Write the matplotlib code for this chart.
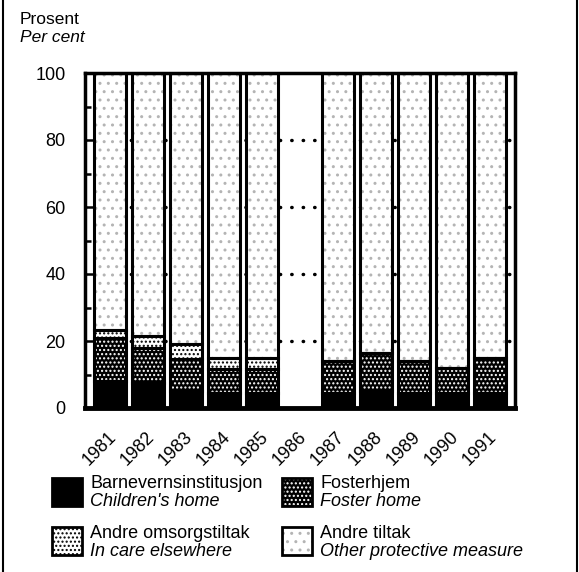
import matplotlib
matplotlib.use("Agg")
import matplotlib.pyplot as plt
import numpy as np
from matplotlib.patches import Rectangle
from matplotlib.lines import Line2D
from matplotlib.transforms import ScaledTranslation

plt.rcParams['font.family'] = ['Liberation Sans', 'DejaVu Sans']
plt.rcParams['hatch.linewidth'] = 1.0

# Data (percent of children with protective measures), 1986 missing
years = ['1981', '1982', '1983', '1984', '1985', '1986',
         '1987', '1988', '1989', '1990', '1991']
childrens_home = [8.0, 7.5, 5.0, 4.5, 4.5, np.nan, 4.5, 5.0, 4.5, 4.5, 4.5]
foster_home = [12.8, 10.5, 9.5, 7.0, 7.0, np.nan, 9.5, 11.5, 9.5, 7.5, 10.5]
in_care = [2.5, 3.5, 4.5, 3.5, 3.5, np.nan, 0.0, 0.0, 0.0, 0.0, 0.0]
grid_levels = [20, 40, 60, 80]

labels_no = ['Barnevernsinstitusjon', 'Fosterhjem',
             'Andre omsorgstiltak', 'Andre tiltak']
labels_en = ["Children's home", 'Foster home',
             'In care elsewhere', 'Other protective measure']

W, H = 579, 572


def fx(px):
    return px / W


def fy(py):
    return 1 - py / H


def main():
    fig = plt.figure(figsize=(W / 100, H / 100), dpi=100)
    ax = fig.add_axes([fx(85), fy(408), fx(515) - fx(85), fy(73) - fy(408)])

    ch = np.array(childrens_home)
    fo = np.array(foster_home)
    ca = np.array(in_care)
    other = 100 - ch - fo - ca
    x = np.arange(len(years))
    ok = ~np.isnan(ch)

    # segment styles: facecolor, hatch colour, hatch
    styles = [('black', 'black', None),
              ('black', 'white', '....'),
              ('white', 'black', '....'),
              ('white', '#b4b4b4', '..')]

    bottom = np.zeros(ok.sum())
    for vals, (fc, hc, hatch) in zip([ch, fo, ca, other], styles):
        v = vals[ok]
        ax.bar(x[ok], v, bottom=bottom, width=0.84, color=fc,
               edgecolor=hc, hatch=hatch, linewidth=0, zorder=2)
        ax.bar(x[ok], v, bottom=bottom, width=0.84, fill=False,
               edgecolor='black', linewidth=2.2, zorder=3)
        bottom = bottom + v

    # dotted grid behind the bars
    for lv in grid_levels:
        ax.axhline(lv, color='black', linewidth=2.5, linestyle=(0, (0.1, 3.2)),
                   dash_capstyle='round', zorder=1)

    ax.set_xlim(-0.66, 10.66)
    ax.set_ylim(0, 100)

    for s in ax.spines.values():
        s.set_linewidth(2.5)
    ax.spines['bottom'].set_linewidth(3.5)

    ax.set_yticks([0, 20, 40, 60, 80, 100])
    ax.set_yticks([10, 30, 50, 70, 90], minor=True)
    ax.tick_params(axis='y', which='major', direction='in', length=9,
                   width=1.8, pad=14, labelsize=13)
    ax.tick_params(axis='y', which='minor', direction='in', length=4,
                   width=1.8)

    ax.set_xticks(x)
    ax.set_xticklabels(years, rotation=45, ha='right', va='center',
                       rotation_mode='anchor', fontsize=13)
    ax.tick_params(axis='x', length=0, pad=19)
    off = ScaledTranslation(4 / 100, 0, fig.dpi_scale_trans)
    for lab in ax.get_xticklabels():
        lab.set_transform(lab.get_transform() + off)

    # unit label
    fig.text(fx(20), fy(20), 'Prosent', fontsize=12.5, va='center')
    fig.text(fx(20), fy(38), 'Per cent', fontsize=12.5, style='italic',
             va='center')

    # legend
    boxes = [(52, 478), (282, 478), (52, 527), (282, 527)]
    for (bx, by), (fc, hc, hatch), no, en in zip(boxes, styles,
                                                  labels_no, labels_en):
        fig.add_artist(Rectangle((fx(bx), fy(by + 28)), fx(30), 28 / H,
                                 transform=fig.transFigure, facecolor=fc,
                                 edgecolor=hc, hatch=hatch, linewidth=0))
        fig.add_artist(Rectangle((fx(bx), fy(by + 28)), fx(30), 28 / H,
                                 transform=fig.transFigure, fill=False,
                                 edgecolor='black', linewidth=2))
        fig.text(fx(bx + 38), fy(by + 6), no, fontsize=13, va='center')
        fig.text(fx(bx + 38), fy(by + 24), en, fontsize=13, style='italic',
                 va='center')

    # page border lines
    fig.add_artist(Line2D([fx(3), fx(3)], [0, 1], color='black',
                          linewidth=1.5, transform=fig.transFigure))
    fig.add_artist(Line2D([fx(577), fx(577)], [0, 1], color='black',
                          linewidth=1.5, transform=fig.transFigure))

    fig.savefig('out.png', dpi=100)


if __name__ == '__main__':
    main()
